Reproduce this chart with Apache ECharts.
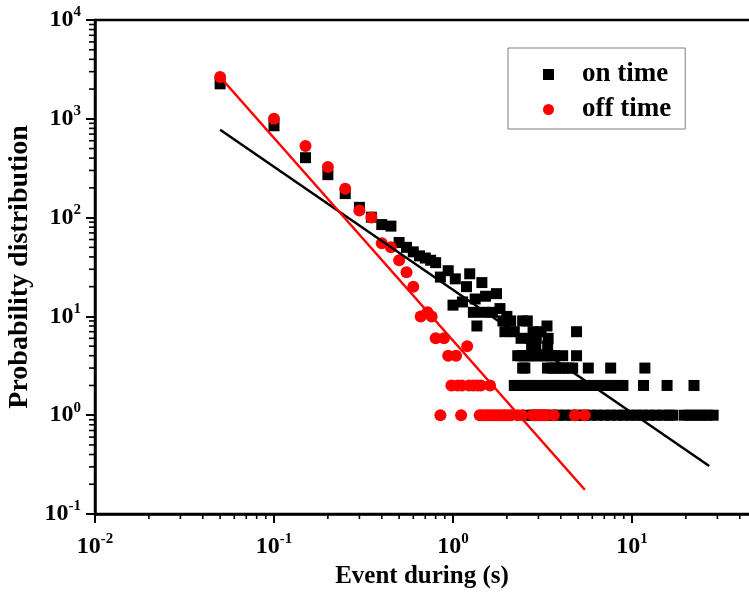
<!DOCTYPE html>
<html>
<head>
<meta charset="utf-8">
<script src="https://cdn.jsdelivr.net/npm/echarts@6/dist/echarts.min.js"></script>
<style>html,body{margin:0;padding:0;background:#fff;}#c{width:749px;height:595px;}</style>
</head>
<body>
<div id="c"></div>
<script>
// ---- data ----
const seriesNames = ['on time', 'off time'];
const xTickExponents = [-2, -1, 0, 1];
const yTickExponents = [-1, 0, 1, 2, 3, 4];

// on time (black squares): [duration s, count]
const onTime = [
  [0.05,2260],[0.1,850],[0.15,404],[0.2,272],[0.25,175],[0.3,127],[0.35,101],[0.4,85],[0.45,82],
  [0.5,56],[0.55,50],[0.6,45],[0.65,41],[0.7,39],[0.75,37],[0.8,35],[0.85,25],[0.94,29],
  [1.0,13],[1.03,24],[1.13,14],[1.19,20],[1.24,27],[1.3,11],[1.33,15],[1.36,8],[1.45,22],[1.48,11],
  [1.52,16],[1.66,11],[1.75,17],[1.83,12],[1.9,9],[1.95,7],[2.0,10],[2.1,9],[2.2,7],[2.4,6],
  [2.45,9],[2.6,9],[2.7,6],[2.75,5],[2.8,7],[2.9,5],[2.92,6],[3.1,7],[3.35,8],[3.38,5],[3.4,6],[4.9,7],
  [2.3,4],[2.4,4],[2.5,4],[2.6,4],[2.7,4],[2.8,4],[2.95,4],[3.1,4],[3.25,4],[3.4,4],[3.55,4],[3.7,4],[4.1,4],[4.9,4],
  [2.45,3],[2.52,3],[3.37,3],[3.55,3],[3.75,3],[3.95,3],[4.15,3],[4.4,3],[4.66,3],[5.7,3],[7.6,3],[11.8,3],
  [2.2,2],[2.35,2],[2.5,2],[2.65,2],[2.8,2],[3.0,2],[3.2,2],[3.4,2],[3.6,2],[3.8,2],[4.0,2],[4.3,2],[4.6,2],
  [4.9,2],[5.2,2],[5.5,2],[5.9,2],[6.3,2],[6.7,2],[7.2,2],[7.7,2],[8.3,2],[8.9,2],[11.6,2],[15.7,2],[22.2,2],
  [2.6,1],[2.8,1],[3.0,1],[3.3,1],[3.6,1],[3.9,1],[4.2,1],[4.6,1],[5.0,1],[5.4,1],[5.9,1],[6.4,1],[7.0,1],
  [7.6,1],[8.3,1],[9.0,1],[9.8,1],[10.6,1],[11.5,1],[12.5,1],[13.6,1],[14.8,1],[16.1,1],[16.9,1],[19.6,1],
  [21.0,1],[22.6,1],[24.3,1],[26.3,1],[28.4,1]
];

// off time (red circles): [duration s, count]
const offTime = [
  [0.05,2650],[0.1,1000],[0.15,530],[0.2,325],[0.25,196],[0.3,118],[0.35,100],[0.4,55],[0.45,50],
  [0.5,37],[0.55,28],[0.6,20],[0.66,10],[0.72,11],[0.76,10],[0.8,6],[0.89,6],[0.94,4],[1.04,4],[1.2,5],
  [0.98,2],[1.06,2],[1.12,2],[1.23,2],[1.3,2],[1.37,2],[1.43,2],[1.61,2],
  [0.85,1],[1.11,1],[1.41,1],[1.46,1],[1.52,1],[1.57,1],[1.63,1],[1.7,1],[1.76,1],[1.83,1],[1.9,1],
  [1.96,1],[2.04,1],[2.11,1],[2.3,1],[2.44,1],[2.79,1],[2.88,1],[2.96,1],[3.06,1],[3.15,1],[3.25,1],
  [3.33,1],[3.66,1],[4.8,1],[5.45,1]
];

// power-law fit lines (end points)
const onFitX = [0.05, 27];
const onFitY = [775, 0.306];
const offFitX = [0.05, 5.45];
const offFitY = [2650, 0.176];

// minor tick multipliers within each decade
const minorMultipliers = [2, 3, 4, 5, 6, 7, 8, 9];

// ---- chart ----
const FONT = 'Liberation Serif';
const chart = echarts.init(document.getElementById('c'), null, {renderer: 'canvas'});

function expLabel(exps) {
  return function (v) {
    const l = Math.log10(v);
    const e = Math.round(l);
    if (Math.abs(l - e) > 1e-6 || exps.indexOf(e) < 0) return '';
    return '{b|10}{s|' + e + '}';
  };
}
const richLabel = {
  b: {fontFamily: FONT, fontWeight: 'bold', fontSize: 24, color: '#000', lineHeight: 30},
  s: {fontFamily: FONT, fontWeight: 'bold', fontSize: 15, color: '#000', verticalAlign: 'top', lineHeight: 15}
};

function axisCommon() {
  return {
    type: 'log', logBase: 10,
    axisLine: {show: true, onZero: false, lineStyle: {color: '#000', width: 2.5}},
    axisTick: {show: true, inside: false, length: 9, lineStyle: {color: '#000', width: 2}},
    minorTick: {show: false},
    splitLine: {show: false},
    minorSplitLine: {show: false}
  };
}

const pairs = (xs, ys) => xs.map((x, i) => [x, ys[i]]);

// minor tick values from decade exponents and multipliers
function minorValues(e0, e1) {
  const out = [];
  for (let e = e0; e < e1; e++) minorMultipliers.forEach(m => out.push(m * Math.pow(10, e)));
  return out;
}
const xMinor = minorValues(-2, 2).map(v => [v, 0.1]);
const yMinor = minorValues(-1, 4).map(v => [0.01, v]);

chart.setOption({
  animation: false,
  backgroundColor: '#fff',
  grid: {left: 95, top: 20, width: 716, height: 494, show: true, borderColor: '#000', borderWidth: 2.5,
         containLabel: false, outerBoundsMode: 'none'},
  legend: {
    data: [{name: seriesNames[0], icon: 'rect'}, {name: seriesNames[1], icon: 'circle'}],
    orient: 'vertical', left: 508, top: 48,
    itemWidth: 11, itemHeight: 11, itemGap: 8,
    borderColor: '#7f7f7f', borderWidth: 1, borderRadius: 0,
    padding: [13, 14, 6, 35],
    textStyle: {fontFamily: FONT, fontWeight: 'bold', fontSize: 27, lineHeight: 24, color: '#000', padding: [0, 0, 0, 23]}
  },
  xAxis: Object.assign(axisCommon(), {
    min: 0.01, max: 100,
    name: 'Event during (s)', nameLocation: 'middle', nameGap: 48,
    nameTextStyle: {fontFamily: FONT, fontWeight: 'bold', fontSize: 25, color: '#000', padding: [0, 62, 0, 0]},
    axisLabel: {formatter: expLabel(xTickExponents), rich: richLabel, margin: 18}
  }),
  yAxis: Object.assign(axisCommon(), {
    min: 0.1, max: 10000,
    name: 'Probability distribution', nameLocation: 'middle', nameGap: 58,
    nameTextStyle: {fontFamily: FONT, fontWeight: 'bold', fontSize: 28, color: '#000'},
    axisLabel: {formatter: expLabel(yTickExponents), rich: richLabel, margin: 14}
  }),
  series: [
    {name: 'x minor ticks', type: 'custom', data: xMinor, clip: false, silent: true, z: 1,
     renderItem: function (params, api) {
       const p = api.coord([api.value(0), api.value(1)]);
       return {type: 'line', shape: {x1: p[0], y1: p[1], x2: p[0], y2: p[1] + 5},
               style: {stroke: '#000', lineWidth: 1.6}};
     }},
    {name: 'y minor ticks', type: 'custom', data: yMinor, clip: false, silent: true, z: 1,
     renderItem: function (params, api) {
       const p = api.coord([api.value(0), api.value(1)]);
       return {type: 'line', shape: {x1: p[0], y1: p[1], x2: p[0] - 6, y2: p[1]},
               style: {stroke: '#000', lineWidth: 1.6}};
     }},
    {name: seriesNames[0], type: 'scatter', symbol: 'rect', symbolSize: 11,
     itemStyle: {color: '#000', opacity: 1}, data: onTime, z: 2},
    {name: seriesNames[1], type: 'scatter', symbol: 'circle', symbolSize: 12,
     itemStyle: {color: '#ff0000', opacity: 1}, data: offTime, z: 3},
    {name: 'on fit', type: 'line', data: pairs(onFitX, onFitY), showSymbol: false, symbol: 'none',
     lineStyle: {color: '#000', width: 2.5}, z: 4},
    {name: 'off fit', type: 'line', data: pairs(offFitX, offFitY), showSymbol: false, symbol: 'none',
     lineStyle: {color: '#ff0000', width: 2.5}, z: 4}
  ]
});
</script>
</body>
</html>
